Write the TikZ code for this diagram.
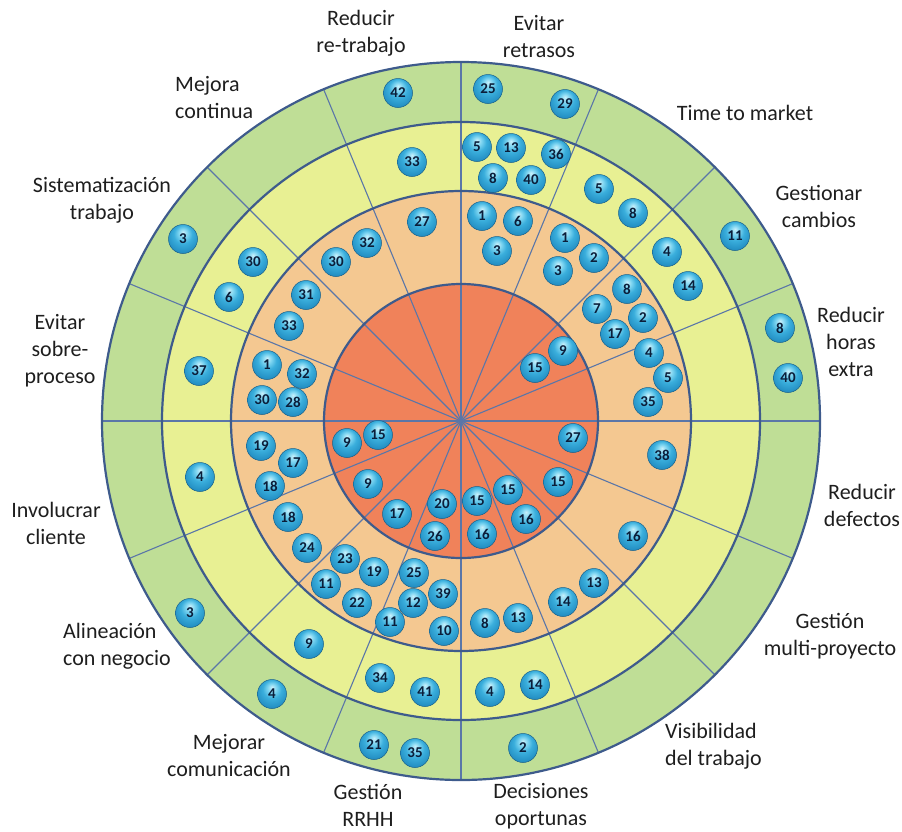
\documentclass[tikz,border=0pt]{standalone}
\usepackage{fontspec}
\setmainfont{Carlito}
\usepackage{tikz}
\usetikzlibrary{positioning}

\definecolor{ringgreen}{HTML}{BFDE96}
\definecolor{ringyellow}{HTML}{E8F093}
\definecolor{ringorange}{HTML}{F4C891}
\definecolor{ringred}{HTML}{F0825A}
\definecolor{ringline}{HTML}{3E5B8C}
\definecolor{spokeline}{HTML}{5A76A8}
\definecolor{bubwhite}{HTML}{C8F0FB}
\definecolor{bubhi}{HTML}{7AD3F0}
\definecolor{bubmid}{HTML}{3AAEDC}
\definecolor{bublow}{HTML}{2490C4}
\definecolor{bubdark}{HTML}{17608C}
\definecolor{numtext}{HTML}{0B1E3A}
\definecolor{labeltext}{HTML}{1E1E1E}

\pgfdeclareradialshading{bubble}{\pgfpoint{0bp}{12bp}}{color(0bp)=(bubwhite); color(8bp)=(bubhi); color(16bp)=(bubmid); color(28bp)=(bublow); color(36bp)=(bubdark); color(50bp)=(bubdark)}

\tikzset{
  ring/.style={draw=ringline, line width=2.2pt},
  spoke/.style={draw=spokeline, line width=1.1pt},
  goal/.style={font=\fontsize{22}{27}\selectfont, text=labeltext, align=center, inner sep=0pt},
  bub/.style={circle, minimum size=29pt, inner sep=0pt, shading=bubble,
              draw=bubdark, line width=0.5pt, text=numtext, font=\fontsize{15}{15}\selectfont\bfseries}
}

\begin{document}
\begin{tikzpicture}[x=1pt,y=-1pt]
\useasboundingbox (0,0) rectangle (902,831);

\begin{scope}
    \coordinate (o) at (461,421);
    \fill[ringgreen] (o) circle [radius=359pt];
    \fill[ringyellow] (o) circle [radius=299pt];
    \fill[ringorange] (o) circle [radius=230pt];
    \fill[ringred] (o) circle [radius=137pt];
    \draw[spoke] (o) ++(0:359pt) -- ++(180:718pt);
    \draw[spoke] (o) ++(22.5:359pt) -- ++(202.5:718pt);
    \draw[spoke] (o) ++(45:359pt) -- ++(225:718pt);
    \draw[spoke] (o) ++(67.5:359pt) -- ++(247.5:718pt);
    \draw[spoke] (o) ++(90:359pt) -- ++(270:718pt);
    \draw[spoke] (o) ++(112.5:359pt) -- ++(292.5:718pt);
    \draw[spoke] (o) ++(135:359pt) -- ++(315:718pt);
    \draw[spoke] (o) ++(157.5:359pt) -- ++(337.5:718pt);
    \draw[ring] (o) circle [radius=359pt];
    \draw[ring] (o) circle [radius=299pt];
    \draw[ring] (o) circle [radius=230pt];
    \draw[ring] (o) circle [radius=137pt];
\end{scope}

\begin{scope}
    \node[goal] (retrabajo) at (361,33) {Reducir\\re-trabajo};
    \node[goal] (retrasos) at (539,37) {Evitar\\retrasos};
    \node[goal] (ttm) at (745,113) {Time to market};
    \node[goal] (cambios) at (819,206) {Gestionar\\cambios};
    \node[goal] (horas) at (851,342) {Reducir\\horas\\extra};
    \node[goal] (defectos) at (862,505) {Reducir\\defectos};
    \node[goal] (multi) at (830,636) {Gestión\\multi-proyecto};
    \node[goal, align=left, anchor=west] (visib) at (665,746) {Visibilidad\\del trabajo};
    \node[goal] (decis) at (541,806) {Decisiones\\oportunas};
    \node[goal] (rrhh) at (368,805) {Gestión\\RRHH};
    \node[goal] (comun) at (229,755) {Mejorar\\comunicación};
    \node[goal, align=left, anchor=west] (negocio) at (63,646) {Alineación\\con negocio};
    \node[goal] (cliente) at (56,523) {Involucrar\\cliente};
    \node[goal] (sobre) at (60,351) {Evitar\\sobre-\\proceso};
    \node[goal] (sistem) at (102,200) {Sistematización\\trabajo};
    \node[goal, align=left, anchor=west] (mejora) at (175,98) {Mejora\\continua};
\end{scope}

\begin{scope}
    \node[bub] (a1) at (398,93) {42};
    \node[bub] (a2) at (412,162) {33};
    \node[bub] (a3) at (422,222) {27};
    \node[bub] (a4) at (367,243) {32};
    \node[bub] (a5) at (336,262) {30};
    \node[bub] (a6) at (183,239) {3};
    \node[bub] (a7) at (253,262) {30};
    \node[bub] (a8) at (229,297) {6};
    \node[bub] (a9) at (306,295) {31};
    \node[bub] (a10) at (289,326) {33};
    \node[bub] (a11) at (199,371) {37};
    \node[bub] (a12) at (267,365) {1};
    \node[bub] (a13) at (302,374) {32};
    \node[bub] (a14) at (262,400) {30};
    \node[bub] (a15) at (293,402) {28};

    \node[bub] (b1) at (488,89) {25};
    \node[bub] (b2) at (565,104) {29};
    \node[bub] (b3) at (477,147) {5};
    \node[bub] (b4) at (511,148) {13};
    \node[bub] (b5) at (556,154) {36};
    \node[bub] (b6) at (493,178) {8};
    \node[bub] (b7) at (531,180) {40};
    \node[bub] (b8) at (599,189) {5};
    \node[bub] (b9) at (633,213) {8};
    \node[bub] (b10) at (482,216) {1};
    \node[bub] (b11) at (518,221) {6};
    \node[bub] (b12) at (497,251) {3};
    \node[bub] (b13) at (565,238) {1};
    \node[bub] (b14) at (594,258) {2};
    \node[bub] (b15) at (558,271) {3};
    \node[bub] (b16) at (735,236) {11};
    \node[bub] (b17) at (667,252) {4};
    \node[bub] (b18) at (688,286) {14};
    \node[bub] (b19) at (627,289) {8};
    \node[bub] (b20) at (597,309) {7};
    \node[bub] (b21) at (643,318) {2};
    \node[bub] (b22) at (615,334) {17};
    \node[bub] (b23) at (563,351) {9};
    \node[bub] (b24) at (535,368) {15};
    \node[bub] (b25) at (649,353) {4};
    \node[bub] (b26) at (668,378) {5};
    \node[bub] (b27) at (648,402) {35};
    \node[bub] (b28) at (780,328) {8};
    \node[bub] (b29) at (788,378) {40};

    \node[bub] (c1) at (573,438) {27};
    \node[bub] (c2) at (662,455) {38};
    \node[bub] (c3) at (558,482) {15};
    \node[bub] (c4) at (508,490) {15};
    \node[bub] (c5) at (477,501) {15};
    \node[bub] (c6) at (526,519) {16};
    \node[bub] (c7) at (482,534) {16};
    \node[bub] (c8) at (633,536) {16};
    \node[bub] (c9) at (594,583) {13};
    \node[bub] (c10) at (563,602) {14};
    \node[bub] (c11) at (485,623) {8};
    \node[bub] (c12) at (518,618) {13};
    \node[bub] (c13) at (490,692) {4};
    \node[bub] (c14) at (535,685) {14};
    \node[bub] (c15) at (523,748) {2};

    \node[bub] (d1) at (200,477) {4};
    \node[bub] (d2) at (261,446) {19};
    \node[bub] (d3) at (293,463) {17};
    \node[bub] (d4) at (270,486) {18};
    \node[bub] (d5) at (347,443) {9};
    \node[bub] (d6) at (378,435) {15};
    \node[bub] (d7) at (190,613) {3};
    \node[bub] (d8) at (309,644) {9};
    \node[bub] (d9) at (288,517) {18};
    \node[bub] (d10) at (307,548) {24};
    \node[bub] (d11) at (368,484) {9};
    \node[bub] (d12) at (397,514) {17};
    \node[bub] (d13) at (345,559) {23};
    \node[bub] (d14) at (374,572) {19};
    \node[bub] (d15) at (326,584) {11};
    \node[bub] (d16) at (357,603) {22};
    \node[bub] (d17) at (414,573) {25};
    \node[bub] (d18) at (413,603) {12};
    \node[bub] (d19) at (390,622) {11};
    \node[bub] (d20) at (443,594) {39};
    \node[bub] (d21) at (444,631) {10};
    \node[bub] (d22) at (442,504) {20};
    \node[bub] (d23) at (435,536) {26};
    \node[bub] (d24) at (272,694) {4};
    \node[bub] (d25) at (380,678) {34};
    \node[bub] (d26) at (425,692) {41};
    \node[bub] (d27) at (374,745) {21};
    \node[bub] (d28) at (415,753) {35};
\end{scope}
\end{tikzpicture}
\end{document}
